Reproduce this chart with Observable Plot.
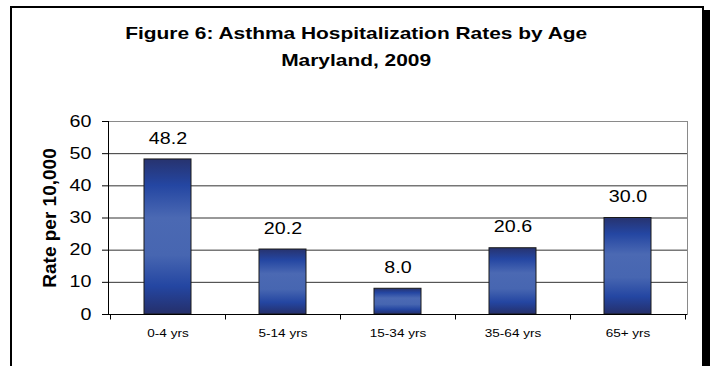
<!DOCTYPE html>
<html>
<head>
<meta charset="utf-8">
<script src="https://cdn.jsdelivr.net/npm/d3@7"></script>
<script src="https://cdn.jsdelivr.net/npm/@observablehq/plot@0.6"></script>
<style>
  html, body { margin: 0; padding: 0; background: #fff; overflow: hidden; }
  #page { position: relative; width: 713px; height: 366px; overflow: hidden;
          font-family: "Liberation Sans", Arial, sans-serif; }
  #border { position: absolute; left: 10px; top: 6px; width: 690px; height: 420px;
            border: 2px solid #000; border-bottom: none; box-shadow: 6px 4px 0 #000; }
  #title { position: relative; box-sizing: border-box; height: 80px; padding-top: 20px;
           text-align: center; font-weight: bold; font-size: 17px; line-height: 27px; color: #000; }
  #title div { transform: scaleX(1.23); transform-origin: 358px 50%; }
  #chart { position: relative; }
  #chart svg { display: block; }
</style>
</head>
<body>
<div id="page">
  <div id="border"></div>
  <div id="title"></div>
  <div id="chart"></div>
</div>
<script>
// Asthma hospitalization rate per 10,000 residents, by age group
const ageGroups = ["0-4 yrs", "5-14 yrs", "15-34 yrs", "35-64 yrs", "65+ yrs"];
const rates = [48.2, 20.2, 8.0, 20.6, 30.0];
const yTicks = [0, 10, 20, 30, 40, 50, 60];
const titleLines = ["Figure 6: Asthma Hospitalization Rates by Age", "Maryland, 2009"];
const yLabel = "Rate per 10,000";

// vertical shading of the bars: dark edges, bright band, lighter middle
const shadeStops = [
  [0, "#27336f"], [0.17, "#2446a2"], [0.38, "#4b69b3"],
  [0.62, "#4766b1"], [0.82, "#2446a2"], [1, "#252f6a"]
];
const textStretch = 1.23;

const rows = ageGroups.map((age, i) => ({age, rate: rates[i]}));

d3.select("#title").selectAll("div").data(titleLines).join("div").text(d => d);

const plot = Plot.plot({
  width: 713,
  height: 286,
  marginTop: 41,
  marginRight: 26,
  marginBottom: 52,
  marginLeft: 108,
  style: {fontFamily: '"Liberation Sans", Arial, sans-serif', color: "#000", background: "transparent", overflow: "visible"},
  x: {domain: ageGroups, paddingInner: 0.594, paddingOuter: 0.297, label: null},
  y: {domain: [0, 60], label: null},
  marks: [
    Plot.ruleY(yTicks.filter(v => v > 0 && v < 60), {stroke: "#333"}),
    Plot.frame({stroke: "#8a8a8a"}),
    Plot.barY(rows, {x: "age", y: "rate", fill: "url(#barShade)", stroke: "#1a1a1a", strokeWidth: 1}),
    Plot.text(rows, {x: "age", y: "rate", text: d => d.rate.toFixed(1), dy: -21, fontSize: 16, fill: "#000"}),
    Plot.ruleY([0], {stroke: "#000"}),
    Plot.frame({anchor: "left", stroke: "#000"}),
    Plot.axisY({ticks: yTicks, tickSize: 6, tickPadding: 11, fontSize: 16, label: null}),
    Plot.axisX({tickSize: 0, tickPadding: 15, fontSize: 11, label: null}),
    Plot.text([yLabel], {text: d => d, frameAnchor: "left", textAnchor: "middle", dx: -59, rotate: -90, fontSize: 19, fontWeight: "bold", fill: "#000"})
  ]
});

const svg = d3.select(plot);

// gradient used by the bars
const grad = svg.insert("defs", ":first-child")
  .append("linearGradient")
  .attr("id", "barShade")
  .attr("x1", 0).attr("y1", 0).attr("x2", 0).attr("y2", 1);
grad.selectAll("stop").data(shadeStops).join("stop")
  .attr("offset", d => d[0])
  .attr("stop-color", d => d[1]);

// small tick marks between the age groups, below the baseline
const xs = plot.scale("x");
const ys = plot.scale("y");
const half = (xs.step - xs.bandwidth) / 2;
const edges = ageGroups.map(a => xs.apply(a) - half)
  .concat([xs.apply(ageGroups[ageGroups.length - 1]) + xs.bandwidth + half]);
const y0 = Math.round(ys.apply(0)) + 0.5;
svg.append("g").attr("stroke", "#000")
  .selectAll("line").data(edges).join("line")
  .attr("x1", d => Math.round(d) + 0.5).attr("x2", d => Math.round(d) + 0.5)
  .attr("y1", y0).attr("y2", y0 + 5);

// widen the horizontal labels slightly
svg.selectAll("text").each(function () {
  const t = this.getAttribute("transform") || "";
  if (t.includes("rotate")) return;
  if (t.includes("translate")) {
    this.setAttribute("transform", `${t} scale(${textStretch},1)`);
  } else {
    const x = +this.getAttribute("x") || 0;
    this.setAttribute("transform", `translate(${x},0) scale(${textStretch},1) translate(${-x},0)`);
  }
});

document.getElementById("chart").append(plot);
</script>
</body>
</html>
